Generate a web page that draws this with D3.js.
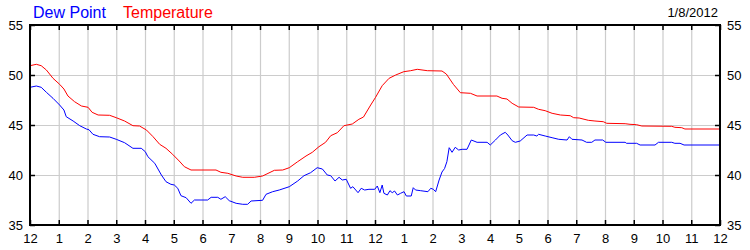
<!DOCTYPE html>
<html>
<head>
<meta charset="utf-8">
<script src="https://cdn.jsdelivr.net/npm/d3@7"></script>
<style>
  body { margin: 0; background: #fff; }
  text { font-family: "Liberation Sans", Arial, sans-serif; }
</style>
</head>
<body>
<svg id="chart"></svg>
<script>
// hour of day (0 = midnight) and reading
var tempPoints = [
  [0, 50.93], [0.22, 51.07], [0.39, 50.93], [0.57, 50.5], [0.8, 49.67], [1.03, 49.07],
  [1.18, 48.6], [1.32, 47.9], [1.55, 47.33], [1.79, 46.9], [2.02, 46.77], [2.16, 46.27],
  [2.37, 46.0], [2.77, 45.97], [3.0, 45.73], [3.29, 45.4], [3.58, 44.93], [3.81, 44.9],
  [4.05, 44.5], [4.28, 43.83], [4.51, 43.07], [4.73, 42.67], [4.96, 42.07], [5.19, 41.4],
  [5.37, 40.83], [5.6, 40.5], [6.47, 40.5], [6.64, 40.27], [6.88, 40.17], [7.17, 39.9],
  [7.4, 39.77], [7.8, 39.77], [8.09, 39.9], [8.5, 40.47], [8.79, 40.5], [9.02, 40.73],
  [9.31, 41.33], [9.6, 41.9], [9.82, 42.27], [10.05, 42.83], [10.28, 43.27], [10.46, 43.93],
  [10.69, 44.23], [10.92, 44.93], [11.21, 45.1], [11.44, 45.57], [11.6, 45.8], [11.85, 47.0],
  [12.02, 47.77], [12.25, 48.93], [12.49, 49.67], [12.72, 50.0], [13.0, 50.33], [13.24, 50.43],
  [13.47, 50.57], [13.82, 50.43], [14.33, 50.4], [14.48, 50.1], [14.73, 49.05], [14.97, 48.23],
  [15.32, 48.17], [15.55, 47.9], [16.24, 47.9], [16.42, 47.67], [16.59, 47.6], [16.77, 47.17],
  [17.0, 46.8], [17.52, 46.77], [17.69, 46.57], [17.92, 46.43], [18.16, 46.17], [18.45, 46.0],
  [18.79, 45.93], [18.91, 45.73], [19.1, 45.7], [19.42, 45.47], [19.65, 45.4], [19.94, 45.33],
  [20.06, 45.17], [20.7, 45.13], [20.87, 45.07], [21.1, 45.03], [21.28, 44.9], [22.32, 44.87],
  [22.43, 44.77], [22.67, 44.73], [22.78, 44.6], [24, 44.6]
];

var dewPoints = [
  [0, 48.77], [0.22, 48.9], [0.39, 48.77], [0.57, 48.27], [0.8, 47.67], [1.03, 47.0],
  [1.18, 46.5], [1.26, 45.83], [1.5, 45.4], [1.73, 44.93], [1.96, 44.6], [2.05, 44.53],
  [2.19, 44.07], [2.42, 43.83], [2.77, 43.8], [3.0, 43.57], [3.29, 43.23], [3.58, 42.67],
  [3.87, 42.67], [4.01, 42.33], [4.1, 41.83], [4.34, 41.17], [4.57, 40.0], [4.73, 39.33],
  [4.9, 39.07], [5.02, 39.0], [5.14, 38.67], [5.25, 37.93], [5.43, 37.73], [5.6, 37.17],
  [5.72, 37.5], [6.18, 37.5], [6.3, 37.77], [6.53, 37.77], [6.64, 37.57], [6.79, 37.83],
  [6.93, 37.43], [7.17, 37.17], [7.4, 37.07], [7.57, 37.07], [7.69, 37.4], [8.09, 37.47],
  [8.21, 38.07], [8.44, 38.33], [8.67, 38.5], [9.02, 38.83], [9.31, 39.4], [9.53, 39.93],
  [9.76, 40.23], [9.99, 40.73], [10.17, 40.6], [10.34, 40.0], [10.46, 39.93], [10.61, 39.4],
  [10.75, 39.77], [10.86, 39.5], [11.0, 39.57], [11.15, 38.67], [11.23, 38.83], [11.33, 38.5],
  [11.41, 38.23], [11.52, 38.67], [11.64, 38.5], [11.79, 38.57], [11.99, 38.57], [12.08, 38.9],
  [12.17, 38.23], [12.25, 39.0], [12.31, 38.17], [12.43, 38.0], [12.52, 38.43], [12.6, 38.23],
  [12.68, 38.4], [12.78, 38.0], [12.89, 38.17], [13.01, 38.33], [13.09, 37.9], [13.26, 37.9],
  [13.33, 38.73], [13.41, 38.5], [13.59, 38.43], [13.84, 38.33], [13.94, 38.67], [14.03, 38.57],
  [14.11, 38.33], [14.23, 39.5], [14.33, 40.3], [14.42, 40.65], [14.5, 41.33], [14.58, 42.73],
  [14.68, 42.27], [14.79, 42.77], [14.91, 42.5], [15.03, 42.57], [15.2, 42.57], [15.35, 43.5],
  [15.55, 43.27], [15.9, 43.27], [16.01, 43.0], [16.19, 43.5], [16.36, 44.0], [16.53, 44.27],
  [16.62, 44.0], [16.77, 43.43], [16.88, 43.27], [17.05, 43.4], [17.29, 44.0], [17.52, 44.0],
  [17.63, 43.9], [17.69, 44.07], [17.92, 43.9], [18.16, 43.73], [18.39, 43.57], [18.68, 43.5],
  [18.76, 43.83], [18.85, 43.57], [19.2, 43.5], [19.36, 43.27], [19.54, 43.27], [19.65, 43.5],
  [19.92, 43.5], [20.03, 43.27], [20.7, 43.27], [20.75, 43.17], [21.1, 43.17], [21.22, 43.0],
  [21.74, 43.0], [21.86, 43.27], [22.32, 43.27], [22.43, 43.17], [22.61, 43.17], [22.75, 43.0],
  [24, 43.0]
];

var hourTicks = d3.range(0, 25);
var hourLabels = ["12","1","2","3","4","5","6","7","8","9","10","11",
                  "12","1","2","3","4","5","6","7","8","9","10","11","12"];
var yTicks = [35, 40, 45, 50, 55];
var seriesNames = ["Dew Point", "Temperature"];
var seriesColors = ["#0000ff", "#ff0000"];
var dateLabel = "1/8/2012";

var width = 750, height = 250;
var padding = { top: 25, right: 30, bottom: 25, left: 30 };

var svg = d3.select("#chart")
            .attr("width", width)
            .attr("height", height);

var xScale = d3.scaleLinear()
               .domain([0, 24])
               .range([padding.left, width - padding.right]);

var yScale = d3.scaleLinear()
               .domain([35, 55])
               .range([height - padding.bottom, padding.top]);

var plotW = width - padding.left - padding.right;
var plotH = height - padding.top - padding.bottom;

// grid lines
svg.append("g")
   .attr("class", "grid")
   .attr("transform", "translate(0," + (height - padding.bottom) + ")")
   .call(d3.axisBottom(xScale).tickValues(hourTicks.slice(1, 24)).tickSize(-plotH).tickFormat(""));

svg.append("g")
   .attr("class", "grid")
   .attr("transform", "translate(" + padding.left + ",0)")
   .call(d3.axisLeft(yScale).tickValues([40, 45, 50]).tickSize(-plotW).tickFormat(""));

svg.selectAll(".grid .domain").remove();
svg.selectAll(".grid line")
   .attr("stroke", "#cccccc")
   .attr("stroke-width", 1.2);

// data lines
var line = d3.line()
             .x(d => xScale(d[0]))
             .y(d => yScale(d[1]));

svg.append("path")
   .datum(tempPoints)
   .attr("fill", "none")
   .attr("stroke", seriesColors[1])
   .attr("stroke-width", 1)
   .attr("d", line);

svg.append("path")
   .datum(dewPoints)
   .attr("fill", "none")
   .attr("stroke", seriesColors[0])
   .attr("stroke-width", 1)
   .attr("d", line);

// frame
svg.append("rect")
   .attr("x", padding.left)
   .attr("y", padding.top)
   .attr("width", plotW)
   .attr("height", plotH)
   .attr("fill", "none")
   .attr("stroke", "#000")
   .attr("stroke-width", 2);

// axes with inward ticks
var bottomAxis = svg.append("g")
   .attr("transform", "translate(0," + (height - padding.bottom) + ")")
   .call(d3.axisBottom(xScale).tickValues(hourTicks).tickSizeInner(-5).tickSizeOuter(0)
           .tickPadding(9).tickFormat((d, i) => hourLabels[i]));

var topAxis = svg.append("g")
   .attr("transform", "translate(0," + padding.top + ")")
   .call(d3.axisTop(xScale).tickValues(hourTicks).tickSizeInner(-5).tickSizeOuter(0).tickFormat(""));

var leftAxis = svg.append("g")
   .attr("transform", "translate(" + padding.left + ",0)")
   .call(d3.axisLeft(yScale).tickValues(yTicks).tickSizeInner(-5).tickSizeOuter(0).tickPadding(7));

var rightAxis = svg.append("g")
   .attr("transform", "translate(" + (width - padding.right) + ",0)")
   .call(d3.axisRight(yScale).tickValues(yTicks).tickSizeInner(-5).tickSizeOuter(0).tickPadding(7));

[bottomAxis, topAxis, leftAxis, rightAxis].forEach(g => {
  g.select(".domain").remove();
  g.selectAll("line").attr("stroke", "#000").attr("stroke-width", 1.5);
  g.selectAll("text")
   .attr("fill", "#000")
   .style("font-size", "13px")
   .style("font-family", "'Liberation Sans', Arial, sans-serif");
});

// legend
svg.append("text")
   .attr("x", 33)
   .attr("y", 18)
   .attr("fill", seriesColors[0])
   .style("font-size", "16px")
   .text(seriesNames[0]);

svg.append("text")
   .attr("x", 123)
   .attr("y", 18)
   .attr("fill", seriesColors[1])
   .style("font-size", "16px")
   .text(seriesNames[1]);

// date
svg.append("text")
   .attr("x", 718)
   .attr("y", 17)
   .attr("fill", "#000")
   .style("text-anchor", "end")
   .style("font-size", "13px")
   .text(dateLabel);
</script>
</body>
</html>
